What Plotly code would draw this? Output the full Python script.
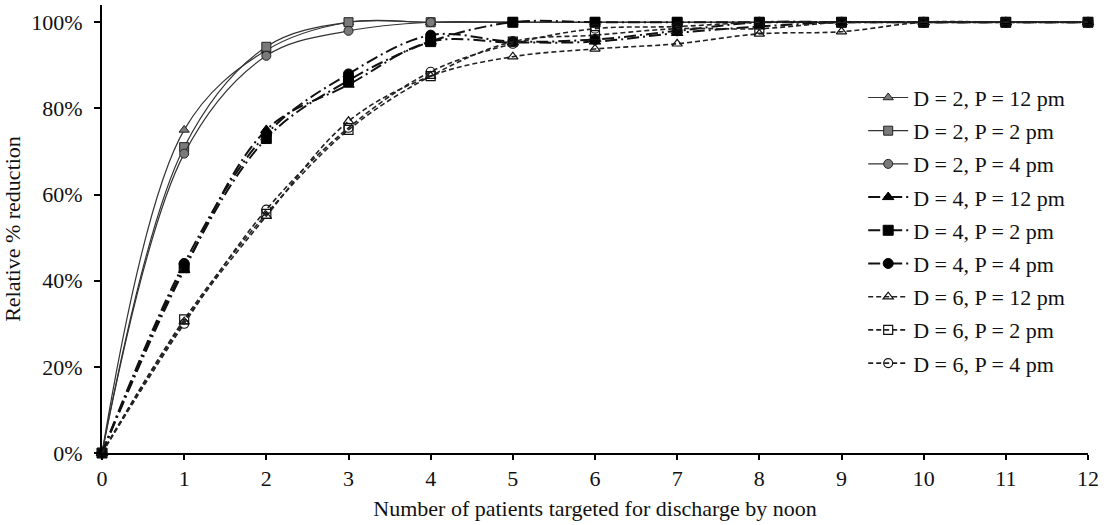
import plotly.graph_objects as go

x_vals = [0, 1, 2, 3, 4, 5, 6, 7, 8, 9, 10, 11, 12]

d2_p12 = [0, 75.0, 93.5, 100, 100, 100, 100, 100, 100, 100, 100, 100, 100]
d2_p2 = [0, 71.0, 94.3, 100, 100, 100, 100, 100, 100, 100, 100, 100, 100]
d2_p4 = [0, 69.5, 92.2, 98.0, 100, 100, 100, 100, 100, 100, 100, 100, 100]

d4_p12 = [0, 42.5, 75.0, 85.5, 95.5, 95.3, 95.5, 97.5, 99.0, 100, 100, 100, 100]
d4_p2 = [0, 43.0, 73.0, 86.5, 95.5, 100, 100, 100, 100, 100, 100, 100, 100]
d4_p4 = [0, 44.0, 74.0, 88.0, 97.0, 95.5, 96.0, 98.0, 100, 100, 100, 100, 100]

d6_p12 = [0, 30.5, 55.0, 77.0, 87.5, 92.0, 93.8, 95.0, 97.3, 97.8, 100, 100, 100]
d6_p2 = [0, 31.0, 55.5, 75.0, 87.5, 95.5, 97.0, 98.5, 98.5, 100, 100, 100, 100]
d6_p4 = [0, 30.0, 56.5, 75.5, 88.5, 95.0, 98.5, 99.0, 100, 100, 100, 100, 100]

names = ["D = 2, P = 12 pm", "D = 2, P = 2 pm", "D = 2, P = 4 pm",
         "D = 4, P = 12 pm", "D = 4, P = 2 pm", "D = 4, P = 4 pm",
         "D = 6, P = 12 pm", "D = 6, P = 2 pm", "D = 6, P = 4 pm"]
series = [d2_p12, d2_p2, d2_p4, d4_p12, d4_p2, d4_p4, d6_p12, d6_p2, d6_p4]
symbols = ["triangle-up", "square", "circle"] * 3

FONT = "Times New Roman, Liberation Serif, serif"
FS = 22

fig = go.Figure()
for i, (name, ys) in enumerate(zip(names, series)):
    grp = i // 3
    sym = symbols[i]
    if grp == 0:
        line = dict(color="#333333", width=1.2, shape="spline", smoothing=1.0)
        marker = dict(symbol=sym, size=9, color="#7a7a7a",
                      line=dict(color="#222222", width=1))
    elif grp == 1:
        line = dict(color="#111111", width=2, dash="12px,4px,2px,4px",
                    shape="spline", smoothing=1.0)
        marker = dict(symbol=sym, size=10, color="#000000",
                      line=dict(color="#000000", width=1))
    else:
        line = dict(color="#222222", width=1.6, dash="5px,3px",
                    shape="spline", smoothing=1.0)
        marker = dict(symbol=sym + "-open", size=9, color="#111111",
                      line=dict(color="#111111", width=1.2))
    fig.add_trace(go.Scatter(
        x=x_vals, y=ys, name=name, mode="lines+markers",
        line=line, marker=marker, cliponaxis=False,
        legendgroup=f"g{i}",
    ))

fig.update_layout(
    width=1106, height=525,
    margin=dict(l=102, r=18, t=5, b=72),
    paper_bgcolor="white", plot_bgcolor="white",
    font=dict(family=FONT, size=FS, color="#111111"),
    showlegend=True,
    legend=dict(x=0.772, y=0.84, xanchor="left", yanchor="top",
                font=dict(family=FONT, size=FS, color="#111111"),
                bgcolor="rgba(255,255,255,0)", itemwidth=40,
                tracegroupgap=1.6),
    xaxis=dict(range=[0, 12], tickmode="array", tickvals=x_vals,
               ticktext=[str(v) for v in x_vals],
               showgrid=False, zeroline=False, showline=True,
               linecolor="black", linewidth=2, ticks="outside",
               ticklen=5, tickwidth=2, tickcolor="black",
               title=dict(text="Number of patients targeted for discharge by noon",
                          font=dict(family=FONT, size=FS), standoff=10),
               tickfont=dict(family=FONT, size=FS)),
    yaxis=dict(range=[0, 104], tickmode="array",
               tickvals=[0, 20, 40, 60, 80, 100],
               ticktext=["0%", "20%", "40%", "60%", "80%", "100%"],
               showgrid=False, zeroline=False, showline=True,
               linecolor="black", linewidth=2, ticks="outside",
               ticklen=6, tickwidth=2, tickcolor="black",
               ticklabelstandoff=7,
               title=dict(text="Relative % reduction",
                          font=dict(family=FONT, size=FS), standoff=6),
               tickfont=dict(family=FONT, size=FS)),
)

fig.write_html("out.html")
